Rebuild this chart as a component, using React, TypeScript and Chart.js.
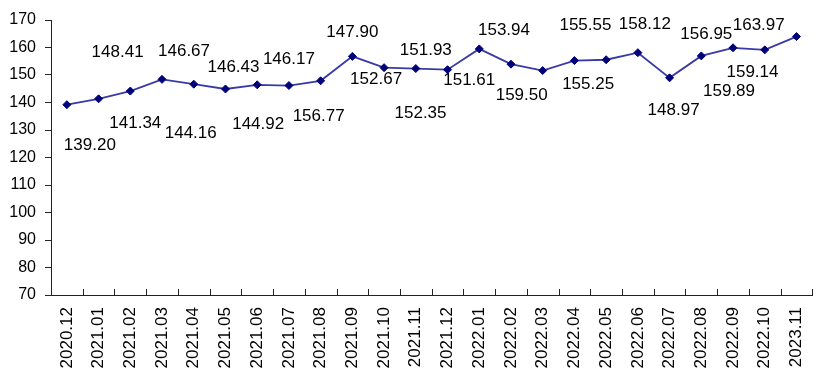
import React, { useEffect, useRef } from "react";
import { Chart, registerables } from "chart.js";

Chart.register(...registerables);

const categories = [
  "2020.12", "2021.01", "2021.02", "2021.03", "2021.04", "2021.05", "2021.06", "2021.07",
  "2021.08", "2021.09", "2021.10", "2021.11", "2021.12", "2022.01", "2022.02", "2022.03",
  "2022.04", "2022.05", "2022.06", "2022.07", "2022.08", "2022.09", "2022.10", "2023.11",
];

const values = [
  139.2, 141.34, 144.16, 148.41, 146.67, 144.92, 146.43, 146.17,
  147.9, 156.77, 152.67, 152.35, 151.93, 159.5, 153.94, 151.61,
  155.25, 155.55, 158.12, 148.97, 156.95, 159.89, 159.14, 163.97,
];

// label texts as they appear next to each point (in the original they are shuffled)
const pointLabels = [
  "139.20", "148.41", "141.34", "146.67", "144.16", "146.43", "144.92", "146.17",
  "156.77", "147.90", "152.67", "151.93", "152.35", "151.61", "153.94", "159.50",
  "155.55", "155.25", "158.12", "148.97", "156.95", "159.89", "163.97", "159.14",
];

// label offsets relative to each point (px)
const labelDx = [23, 19, 5, 22, -3, 8, 1, 0, -2, 0, -8, 10, -27, -10, -7, -21, 11, -18, 7, 4, 5, -4, -6, -44];
const labelDy = [41, -47, 32, -28, 49, -22, 39, -26, 36, -24, 12, -18, 44, 31, -34, 25, -35, 25, -28, 32, -22, 44, -25, 36];

const yTicks = { min: 70, max: 170, step: 10 };

const overlayPlugin = {
  id: "overlay",
  afterDraw(chart: any) {
    const ctx = chart.ctx;
    const xs = chart.scales.x;
    const area = chart.chartArea;
    ctx.save();
    // inward category tick marks on x axis
    ctx.strokeStyle = "#222";
    ctx.lineWidth = 1;
    const n = categories.length;
    const w = (xs.right - xs.left) / n;
    for (let i = 1; i <= n; i++) {
      const x = Math.round(xs.left + i * w) + 0.5;
      ctx.beginPath();
      ctx.moveTo(x, area.bottom);
      ctx.lineTo(x, area.bottom - 6);
      ctx.stroke();
    }
    // data labels
    const meta = chart.getDatasetMeta(0);
    ctx.fillStyle = "#000";
    ctx.font = '17px "Liberation Sans"';
    ctx.textAlign = "center";
    ctx.textBaseline = "middle";
    meta.data.forEach((pt: any, i: number) => {
      ctx.fillText(pointLabels[i], pt.x + labelDx[i], pt.y + labelDy[i]);
    });
    ctx.restore();
  },
};

export default function App() {
  const ref = useRef<HTMLCanvasElement | null>(null);
  useEffect(() => {
    if (!ref.current) return;
    const chart = new Chart(ref.current, {
      type: "line",
      data: {
        labels: categories,
        datasets: [
          {
            data: values,
            borderColor: "#3a3aa6",
            borderWidth: 1.8,
            pointStyle: "rectRot",
            pointRadius: 4,
            pointBackgroundColor: "#00007a",
            pointBorderColor: "#00007a",
            pointBorderWidth: 1,
            tension: 0,
            fill: false,
          },
        ],
      },
      options: {
        responsive: false,
        animation: false,
        devicePixelRatio: 1,
        layout: { padding: { top: 20, right: 6, left: 0, bottom: 0 } },
        plugins: { legend: { display: false }, tooltip: { enabled: false } },
        scales: {
          x: {
            type: "category",
            offset: true,
            grid: { display: false, drawTicks: false },
            border: { display: true, color: "#222", width: 1 },
            ticks: {
              autoSkip: false,
              minRotation: 90,
              maxRotation: 90,
              padding: 12,
              color: "#000",
              font: { family: "Liberation Sans", size: 17 },
            },
            afterFit: (s: any) => {
              s.height = 86;
            },
          },
          y: {
            min: yTicks.min,
            max: yTicks.max,
            grid: { display: true, drawOnChartArea: false, drawTicks: true, tickLength: 6, color: "#222" },
            border: { display: true, color: "#222", width: 1 },
            ticks: {
              stepSize: yTicks.step,
              padding: 9,
              color: "#000",
              font: { family: "Liberation Sans", size: 16 },
            },
            afterFit: (s: any) => {
              s.width = 51;
            },
          },
        },
      },
      plugins: [overlayPlugin],
    });
    return () => chart.destroy();
  }, []);
  return (
    <div style={{ position: "absolute", left: 0, top: 0, width: 829, height: 381, background: "#fff" }}>
      <canvas ref={ref} width={829} height={381} style={{ display: "block" }} />
    </div>
  );
}
